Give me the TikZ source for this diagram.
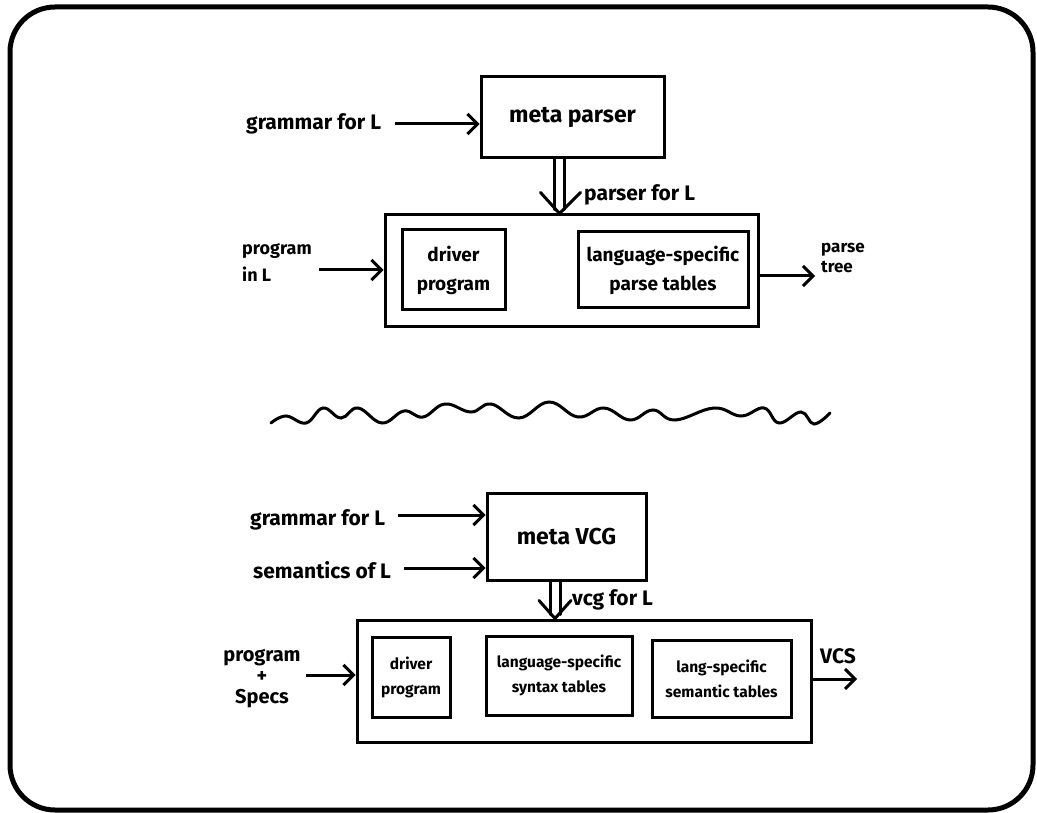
\documentclass[tikz,border=0pt]{standalone}
\usepackage{fontspec}
\setmainfont{Fira Sans}
\usetikzlibrary{arrows.meta,calc}
\begin{document}
\begin{tikzpicture}[x=1pt,y=-1pt,
  box/.style={draw, line width=3pt, rectangle, inner sep=0pt},
  title/.style={font=\fontsize{23}{28}\selectfont\bfseries},
  lbl/.style={font=\fontsize{21}{26}\selectfont\bfseries, inner sep=0pt},
  inlbl/.style={font=\fontsize{19}{29}\selectfont\bfseries, align=center},
  smlbl/.style={font=\fontsize{15.5}{25}\selectfont\bfseries, align=center},
  arr/.style={line width=3pt, -{Straight Barb[length=10pt,width=20pt]}},
  rail/.style={line width=3pt, line cap=round, line join=miter},
]
\useasboundingbox (0,0) rectangle (1037,813);
% frame
\draw[line width=5pt, rounded corners=45pt] (10,7) rectangle (1033,810);

% ---------- parser generator ----------
\node[box, minimum width=183pt, minimum height=81pt, title] (mp) at (572.5,117.5) {meta parser};
\node[lbl, anchor=west] (g1) at (246,124) {grammar for L};
\draw[arr] ([xshift=14pt]g1.east) -- (g1.east -| mp.west);

\node[box, minimum width=373pt, minimum height=112pt] (pb) at (571.5,271) {};
\node[box, minimum width=103pt, minimum height=80pt, inlbl] (dp) at (453.5,270) {driver\\program};
\node[box, minimum width=170pt, minimum height=76pt, inlbl] (lt) at (663,270) {language-specific\\parse tables};

% double arrow: parser handed down
\coordinate (ta) at ([xshift=-13pt]mp.south);
\coordinate (tb) at ([xshift=-12pt]pb.north);
\draw[rail] ($(ta)+(-5,0)$) -- ($(tb)+(-5,-4)$);
\draw[rail] ($(ta)+(5,0)$) -- ($(tb)+(5,-4)$);
\draw[rail] ($(tb)+(-19,-21)$) -- (tb) -- ($(tb)+(21,-21)$);
\node[lbl, anchor=west] (pl) at (584,195) {parser for L};

\node[lbl, anchor=west, align=left, font=\fontsize{18}{27}\selectfont\bfseries] (pin) at (242,262) {program\\in L};
\coordinate (pinout) at ($(pin.east)+(7,8)$);
\draw[arr] (pinout) -- (pinout -| pb.west);

\node[lbl, anchor=west, align=left, font=\fontsize{17}{20}\selectfont\bfseries] (ptree) at (821,258) {parse\\tree};
\coordinate (ptin) at ($(ptree.west)+(-6,18)$);
\draw[arr] (ptin -| pb.east) -- (ptin);

% ---------- separator ----------
\draw[line width=3pt, line cap=round] plot[smooth, tension=0.7] coordinates {
  (271,423) (286,416) (306,423) (323,408) (341,418) (358,408) (382,423)
  (404,411) (423,417) (445,404) (471,412) (491,404) (519,418) (549,402)
  (578,417) (604,408) (630,420) (653,410) (675,420) (714,408) (741,416)
  (764,408) (779,423) (801,412) (814,424) (830,413)};

% ---------- VC generator ----------
\node[box, minimum width=159pt, minimum height=87pt, title] (mv) at (566.5,536.5) {meta VCG};
\node[lbl, anchor=west] (g2) at (250,520) {grammar for L};
\coordinate (g2o) at ($(g2.east)+(13,-5)$);
\draw[arr] (g2o) -- (g2o -| mv.west);
\node[lbl, anchor=west] (s2) at (253,570) {semantics of L};
\coordinate (s2o) at ($(s2.east)+(13,-2)$);
\draw[arr] (s2o) -- (s2o -| mv.west);

\node[box, minimum width=454pt, minimum height=122pt] (vb) at (584,681) {};
\node[box, minimum width=78pt, minimum height=80pt, smlbl] (dp2) at (411,677) {driver\\program};
\node[box, minimum width=146pt, minimum height=79pt, smlbl] (st) at (559,675.5) {language-specific\\syntax tables};
\node[box, minimum width=139pt, minimum height=77pt, smlbl] (sm) at (721.5,678.5) {lang-specific\\semantic tables};

\coordinate (ba) at ([xshift=-11.5pt]mv.south);
\coordinate (bb) at ([xshift=-29pt]vb.north);
\draw[rail] ($(ba)+(-5,0)$) -- ($(bb)+(-5,-4)$);
\draw[rail] ($(ba)+(5,0)$) -- ($(bb)+(5,-4)$);
\draw[rail] ($(bb)+(-16,-18)$) -- (bb) -- ($(bb)+(16,-18)$);
\node[lbl, anchor=west] (vl) at (572,600) {vcg for L};

\node[lbl, align=center, font=\fontsize{20}{21}\selectfont\bfseries] (ps) at (262,679) {program\\+\\Specs};
\coordinate (pso) at ($(ps.east)+(5,-4)$);
\draw[arr] (pso) -- (pso -| vb.west);

\node[lbl, anchor=west] (vcs) at (820,656) {VCS};
\coordinate (vcsin) at ($(vcs.east)+(1,23)$);
\draw[arr] (vcsin -| vb.east) -- (vcsin);
\end{tikzpicture}
\end{document}
